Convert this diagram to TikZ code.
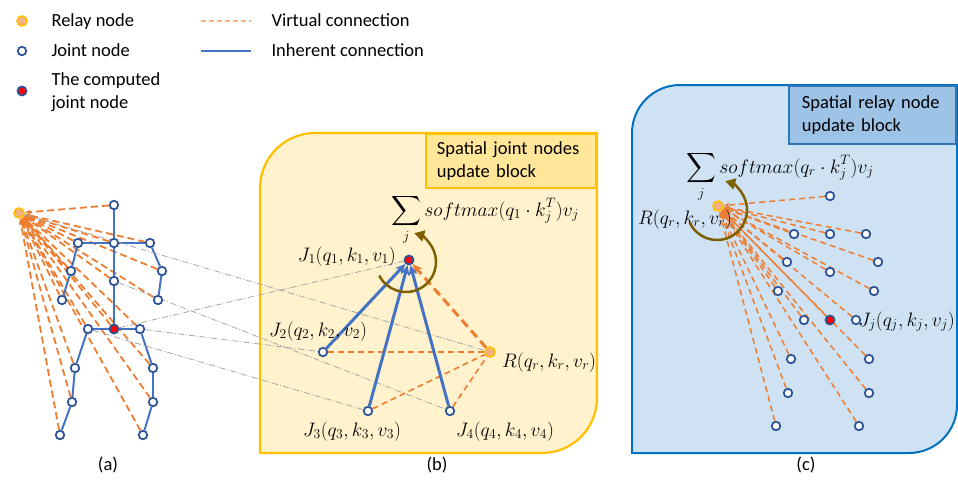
\RequirePackage{fix-cm}
\documentclass[tikz,border=0pt]{standalone}
\usepackage{exscale}
\usepackage{fontspec}
\setmainfont{Carlito}
\usetikzlibrary{arrows.meta}

\definecolor{jointblue}{HTML}{2F5597}
\definecolor{linkblue}{HTML}{4472C4}
\definecolor{virtorange}{HTML}{ED7D31}
\definecolor{legorange}{HTML}{F4B183}
\definecolor{relayfill}{HTML}{F4B183}
\definecolor{relayring}{HTML}{FFC000}
\definecolor{gold}{HTML}{FFC000}
\definecolor{paleyellow}{HTML}{FFF2CC}
\definecolor{tagyellow}{HTML}{FFE699}
\definecolor{paleblue}{HTML}{CFE2F3}
\definecolor{frameblue}{HTML}{0070C0}
\definecolor{tagblue}{HTML}{9DC3E6}
\definecolor{tagframe}{HTML}{2E75B6}
\definecolor{loopbrown}{HTML}{7F6000}
\definecolor{guidegray}{HTML}{A6A6A6}

\pgfdeclarelayer{panel}
\pgfdeclarelayer{links}
\pgfsetlayers{panel,links,main}

% skeleton joints: name / x / y  (the hip centre is added separately)
\newcommand\skeljoints{Head/114/205, Neck/114/243, LSh/78/243, RSh/150/243,
  LEl/71/271, REl/162/271, LHa/62/300, RHa/158/300, Spine/114/281,
  LHip/88/329, RHip/140/329, LKn/75/368, RKn/153/368, LAn/72/402,
  RAn/153/402, LFt/60/435, RFt/143/435}
\newcommand\skelbones{Head/Neck, Neck/LSh, Neck/RSh, LSh/LEl, LEl/LHa,
  RSh/REl, REl/RHa, Neck/Spine, Spine/Hip, Hip/LHip, Hip/RHip,
  LHip/LKn, LKn/LAn, LAn/LFt, RHip/RKn, RKn/RAn, RAn/RFt}
\newcommand\skelnames{Head, Neck, LSh, RSh, LEl, REl, LHa, RHa, Spine,
  Hip, LHip, RHip, LKn, RKn, LAn, RAn, LFt, RFt}

\begin{document}
\begin{tikzpicture}[x=1pt,y=-1pt,
  font=\fontsize{18.5}{23}\selectfont,
  joint/.style={circle,draw=jointblue,fill=white,line width=1.8pt,minimum size=8.5pt,inner sep=0pt},
  computed/.style={circle,draw=jointblue,fill=red,line width=1.8pt,minimum size=9pt,inner sep=0pt},
  relay/.style={circle,draw=relayring,fill=relayfill,line width=1.6pt,minimum size=10pt,inner sep=0pt},
  bone/.style={linkblue,line width=2pt},
  virt/.style={virtorange,line width=1.8pt,dash pattern=on 7pt off 4pt},
  tovirt/.style={virt,-{Stealth[length=6pt,width=4.5pt]}},
  guide/.style={guidegray,line width=0.8pt,dash pattern=on 6pt off 2pt on 1pt off 2pt},
  flowarrow/.style={linkblue,line width=3pt,-{Stealth[length=10pt,width=9pt]}},
  relayarrow/.style={virtorange,line width=3pt,dash pattern=on 9pt off 5pt,-{Stealth[length=10pt,width=9pt]}},
  thinvirt/.style={virtorange,line width=1.6pt,dash pattern=on 6pt off 4pt},
  updatearc/.style={loopbrown,line width=2.5pt,-{Triangle[length=10pt,width=11pt]}},
  lbl/.style={inner sep=0pt,font=\fontsize{19.5}{22}\selectfont},
  tagbox/.style={align=left,inner ysep=0pt,line width=2.2pt,anchor=north east},
]
\useasboundingbox (0,0) rectangle (958,488);

% ---------- legend ----------
\node[relay] (legRelay) at (22,21) {};
\node[anchor=base west] (legRelayTxt) at (48,26) {Relay node};
\node[joint] (legJoint) at (22,51) {};
\node[anchor=base west] (legJointTxt) at (48,56) {Joint node};
\node[computed] (legComp) at (22,91) {};
\node[anchor=west,align=left] (legCompTxt) at (48,92.5) {The computed\\joint node};
\coordinate (legVa) at (201,21);
\coordinate (legVb) at (251,21);
\coordinate (legIa) at (201,51);
\coordinate (legIb) at (251,51);
\draw[legorange,line width=1.2pt,dash pattern=on 5pt off 3pt] (legVa) -- (legVb);
\draw[linkblue,line width=2.5pt] (legIa) -- (legIb);
\node[anchor=base west] (legVirtTxt) at (268,26) {Virtual connection};
\node[anchor=base west] (legInhTxt) at (268,56) {Inherent connection};

% ---------- panels ----------
\begin{pgfonlayer}{panel}
  \draw[gold,line width=2.2pt,fill=paleyellow]
    (260,453) -- (260,188) arc[start angle=180,end angle=270,radius=55]
    -- (597,133) -- (597,398) arc[start angle=0,end angle=90,radius=55] -- cycle;
  \draw[frameblue,line width=2pt,fill=paleblue]
    (632,453) -- (632,133) arc[start angle=180,end angle=270,radius=48]
    -- (957,85) -- (957,405) arc[start angle=0,end angle=90,radius=48] -- cycle;
\end{pgfonlayer}
\node[tagbox,draw=gold,fill=tagyellow,minimum width=170pt,minimum height=54pt,
  inner xsep=11pt,text width=148pt] (tagB) at (597,133) {Spatial joint nodes\\update block};
\node[tagbox,draw=tagframe,fill=tagblue,minimum width=167pt,minimum height=58pt,
  inner xsep=13pt,text width=141pt] (tagC) at (957,85) {Spatial relay node\\update block};

% ---------- (a) skeleton with relay node ----------
\foreach \n/\x/\y in \skeljoints {\node[joint] (a\n) at (\x,\y) {};}
\node[computed] (aHip) at (114,329) {};
\node[relay] (aRelay) at (19,213) {};
\begin{pgfonlayer}{links}
  \foreach \n in \skelnames {\draw[tovirt] (a\n) -- (aRelay);}
  \foreach \p/\q in \skelbones {\draw[bone] (a\p) -- (a\q);}
\end{pgfonlayer}

% ---------- (b) joint update ----------
\node[computed] (bJ1) at (409,260) {};
\node[joint] (bJ2) at (323,352) {};
\node[joint] (bJ3) at (368,411) {};
\node[joint] (bJ4) at (450,411) {};
\node[relay] (bR) at (490,352) {};
\begin{pgfonlayer}{links}
  \draw[guide] (aRelay) -- (bR);
  \draw[guide] (aHip) -- (bJ1);
  \draw[guide] (aRHip) -- (bJ2);
  \draw[guide] (aLHip) -- (bJ3);
  \draw[guide] (aSpine) -- (bJ4);
  \draw[thinvirt] (bJ2) -- (bR);
  \draw[thinvirt] (bJ3) -- (bR);
  \draw[thinvirt] (bJ4) -- (bR);
  \draw[relayarrow] (bR) -- (bJ1);
  \draw[flowarrow] (bJ2) -- (bJ1);
  \draw[flowarrow] (bJ3) -- (bJ1);
  \draw[flowarrow] (bJ4) -- (bJ1);
\end{pgfonlayer}
\node[lbl,anchor=base west] (sumB) at (391,216) {$\displaystyle\sum_j softmax(q_1\cdot k_j^T)v_j$};
\node[lbl,anchor=base east] (lblJ1) at (396,261) {$J_1(q_1,k_1,v_1)$};
\node[lbl,anchor=base] (lblJ2) at (318,336) {$J_2(q_2,k_2,v_2)$};
\node[lbl,anchor=base] (lblJ3) at (352,436) {$J_3(q_3,k_3,v_3)$};
\node[lbl,anchor=base] (lblJ4) at (505,436) {$J_4(q_4,k_4,v_4)$};
\node[lbl,anchor=base west] (lblRb) at (502,367) {$R(q_r,k_r,v_r)$};
\draw[updatearc] (406,262) ++(153:30) arc[start angle=153,end angle=-74,radius=30];

% ---------- (c) relay update ----------
\begin{scope}[shift={(716,-9)}]
  \foreach \n/\x/\y in \skeljoints {\node[joint] (c\n) at (\x,\y) {};}
  \node[computed] (cHip) at (114,329) {};
\end{scope}
\node[relay] (cRelay) at (718,206) {};
\begin{pgfonlayer}{links}
  \foreach \n in \skelnames {\draw[tovirt,line width=1.5pt,dash pattern=on 6pt off 4pt] (c\n) -- (cRelay);}
\end{pgfonlayer}
\node[lbl,anchor=base west] (sumC) at (686,173) {$\displaystyle\sum_j softmax(q_r\cdot k_j^T)v_j$};
\node[lbl,anchor=base west] (lblRc) at (638,224) {$R(q_r,k_r,v_r)$};
\node[lbl,anchor=base east] (lblJj) at (955,326) {$J_j(q_j,k_j,v_j)$};
\draw[updatearc] (717,210) ++(156:30) arc[start angle=156,end angle=-74,radius=30];

% ---------- captions ----------
\node[anchor=base] (capA) at (108,470) {(a)};
\node[anchor=base] (capB) at (437,470) {(b)};
\node[anchor=base] (capC) at (806,470) {(c)};
\end{tikzpicture}
\end{document}
